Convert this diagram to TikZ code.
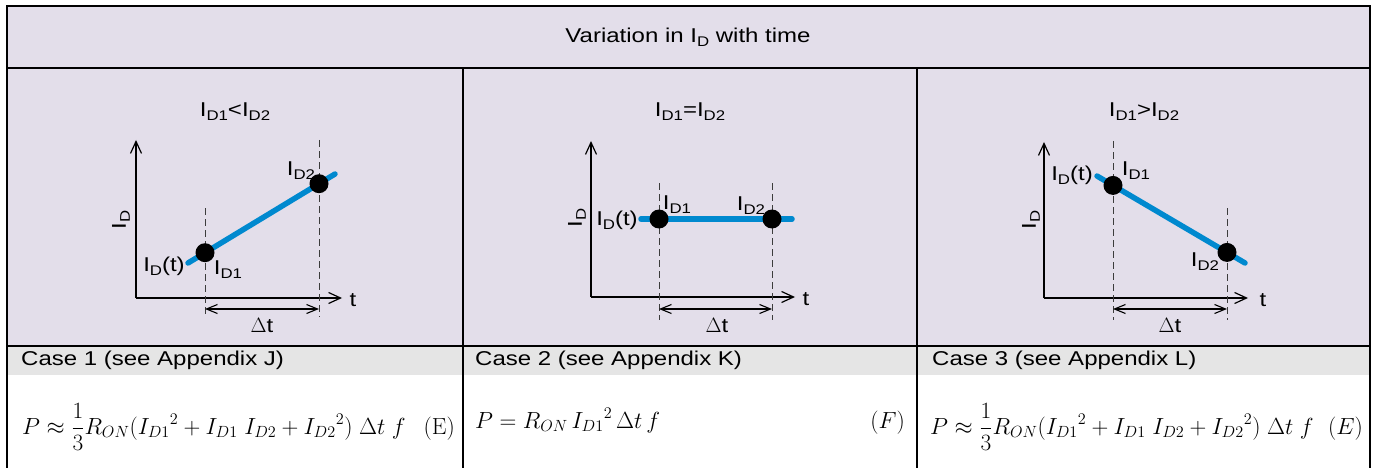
\documentclass[tikz,border=0pt]{standalone}
\usepackage{graphicx}
\usepackage[no-math]{fontspec}
\setmainfont{Liberation Sans}[FakeStretch=1.2]
\usetikzlibrary{arrows.meta}
\definecolor{lav}{RGB}{227,222,234}
\definecolor{casegray}{RGB}{229,229,229}
\definecolor{cblue}{RGB}{0,137,207}
\definecolor{dashc}{RGB}{60,60,60}
\newcommand\Isb[1]{I\raisebox{-0.2em}{\fontsize{14}{14}\selectfont #1}}
\newcommand\bigmath[1]{\scalebox{1.125}{#1}}
\tikzset{
  lab/.style={inner sep=0pt, font=\fontsize{20}{22}\selectfont},
  casetxt/.style={inner sep=0pt, anchor=base west, font=\fontsize{20}{22}\selectfont},
  formula/.style={inner sep=0pt, anchor=base west, font=\fontsize{20.74}{25}\selectfont},
  eqno/.style={inner sep=0pt, anchor=base east, font=\fontsize{20.74}{25}\selectfont},
  axis/.style={line width=1.2pt, -{Straight Barb[length=12pt,width=11pt,line width=1.2pt]}},
  dimarrow/.style={line width=1.1pt, {Straight Barb[length=11pt,width=9pt,line width=1.1pt]}-{Straight Barb[length=11pt,width=9pt,line width=1.1pt]}},
  guide/.style={line width=1pt, dashc, dash pattern=on 7pt off 4pt},
  curve/.style={line width=5.5pt, cblue, line cap=round},
  dotnode/.style={circle, fill=black, minimum size=19pt, inner sep=0pt},
  frameline/.style={line width=2.6pt, line cap=rect},
  innerline/.style={line width=2pt},
}
\begin{document}
\begin{tikzpicture}[x=1pt,y=-1pt]
\useasboundingbox (0,0) rectangle (1378,468);
% fills
\fill[lav] (7,6) rectangle (1370,346);
\fill[casegray] (7,346) rectangle (1370,375);
% frame
\draw[innerline] (7,68) -- (1370,68);
\draw[innerline] (7,346) -- (1370,346);
\draw[innerline] (463,68) -- (463,468);
\draw[innerline] (917,68) -- (917,468);
\draw[frameline] (7,468) -- (7,6) -- (1370,6) -- (1370,468);
% header
\node[lab] (head) at (688,37) {Variation in \Isb{D} with time};

% ---------------- Panel 1 ----------------
\node[lab] (t1) at (235,112) {\Isb{D1}<\Isb{D2}};
\coordinate (o1) at (136,298);
\coordinate (y1) at (136,140);
\coordinate (x1) at (342,298);
\draw[axis] (o1) -- (y1);
\draw[axis] (o1) -- (x1);
\node[lab, rotate=90] (ya1) at (121,220) {\Isb{D}};
\node[lab] (xa1) at (353,300) {t};
\coordinate (g1a) at (205,208); \coordinate (g1b) at (205,317);
\coordinate (g2a) at (319,140); \coordinate (g2b) at (319,317);
\draw[guide] (g1a) -- (g1b);
\draw[guide] (g2a) -- (g2b);
\coordinate (c1s) at (188,263); \coordinate (c1e) at (335,174);
\draw[curve] (c1s) -- (c1e);
\node[dotnode] (p11) at (205,252.7) {};
\node[dotnode] (p12) at (319,183.7) {};
\node[lab] (it1) at (164,266) {\Isb{D}(t)};
\node[lab] (i11) at (228,270) {\Isb{D1}};
\node[lab] (i12) at (301,171) {\Isb{D2}};
\coordinate (a1l) at (205,309); \coordinate (a1r) at (319,309);
\draw[dimarrow] (a1l) -- (a1r);
\node[lab] (dt1) at (262,325) {$\Delta$t};

% ---------------- Panel 2 ----------------
\node[lab] (t2) at (690,112) {\Isb{D1}=\Isb{D2}};
\coordinate (o2) at (591,297);
\coordinate (y2) at (591,141);
\coordinate (x2) at (795,297);
\draw[axis] (o2) -- (y2);
\draw[axis] (o2) -- (x2);
\node[lab, rotate=90] (ya2) at (577,218) {\Isb{D}};
\node[lab] (xa2) at (806,299) {t};
\coordinate (h1a) at (659,183); \coordinate (h1b) at (659,320);
\coordinate (h2a) at (772,183); \coordinate (h2b) at (772,320);
\draw[guide] (h1a) -- (h1b);
\draw[guide] (h2a) -- (h2b);
\coordinate (c2s) at (641,219); \coordinate (c2e) at (792,219);
\draw[curve] (c2s) -- (c2e);
\node[dotnode] (p21) at (659,219) {};
\node[dotnode] (p22) at (772,219) {};
\node[lab] (it2) at (617,220) {\Isb{D}(t)};
\node[lab] (i21) at (677,205) {\Isb{D1}};
\node[lab] (i22) at (751,206) {\Isb{D2}};
\coordinate (a2l) at (659,309); \coordinate (a2r) at (772,309);
\draw[dimarrow] (a2l) -- (a2r);
\node[lab] (dt2) at (717,325) {$\Delta$t};

% ---------------- Panel 3 ----------------
\node[lab] (t3) at (1144,112) {\Isb{D1}>\Isb{D2}};
\coordinate (o3) at (1044,298);
\coordinate (y3) at (1044,142);
\coordinate (x3) at (1248,298);
\draw[axis] (o3) -- (y3);
\draw[axis] (o3) -- (x3);
\node[lab, rotate=90] (ya3) at (1031,220) {\Isb{D}};
\node[lab] (xa3) at (1263,300) {t};
\coordinate (k1a) at (1113,141); \coordinate (k1b) at (1113,320);
\coordinate (k2a) at (1227,208); \coordinate (k2b) at (1227,320);
\draw[guide] (k1a) -- (k1b);
\draw[guide] (k2a) -- (k2b);
\coordinate (c3s) at (1097,176); \coordinate (c3e) at (1245,263);
\draw[curve] (c3s) -- (c3e);
\node[dotnode] (p31) at (1113,185.4) {};
\node[dotnode] (p32) at (1227,252.4) {};
\node[lab] (it3) at (1072,175) {\Isb{D}(t)};
\node[lab] (i31) at (1136,171) {\Isb{D1}};
\node[lab] (i32) at (1205,262) {\Isb{D2}};
\coordinate (a3l) at (1113,309); \coordinate (a3r) at (1227,309);
\draw[dimarrow] (a3l) -- (a3r);
\node[lab] (dt3) at (1170,325) {$\Delta$t};

% ---------------- Bottom row ----------------
\node[casetxt] (case1) at (21,365) {Case 1 (see Appendix J)};
\node[casetxt] (case2) at (475,365) {Case 2 (see Appendix K)};
\node[casetxt] (case3) at (932,365) {Case 3 (see Appendix L)};

\node[formula] (f1) at (22,434) {\bigmath{$\displaystyle P \approx \frac{1}{3}R_{ON}({I_{D1}}^2 + I_{D1}\;I_{D2} + {I_{D2}}^2)\;\Delta t\;f$}};
\node[eqno] (e1) at (455,434) {\bigmath{$(\mathrm{E})$}};
\node[formula] (f2) at (475,428) {\bigmath{$P = R_{ON}\,{I_{D1}}^2\,\Delta t\,f$}};
\node[eqno] (e2) at (905,428) {\bigmath{$(F)$}};
\node[formula] (f3) at (930,434) {\bigmath{$\displaystyle P \approx \frac{1}{3}R_{ON}({I_{D1}}^2 + I_{D1}\;I_{D2} + {I_{D2}}^2)\;\Delta t\;f$}};
\node[eqno] (e3) at (1363,434) {\bigmath{$(E)$}};
\end{tikzpicture}
\end{document}
